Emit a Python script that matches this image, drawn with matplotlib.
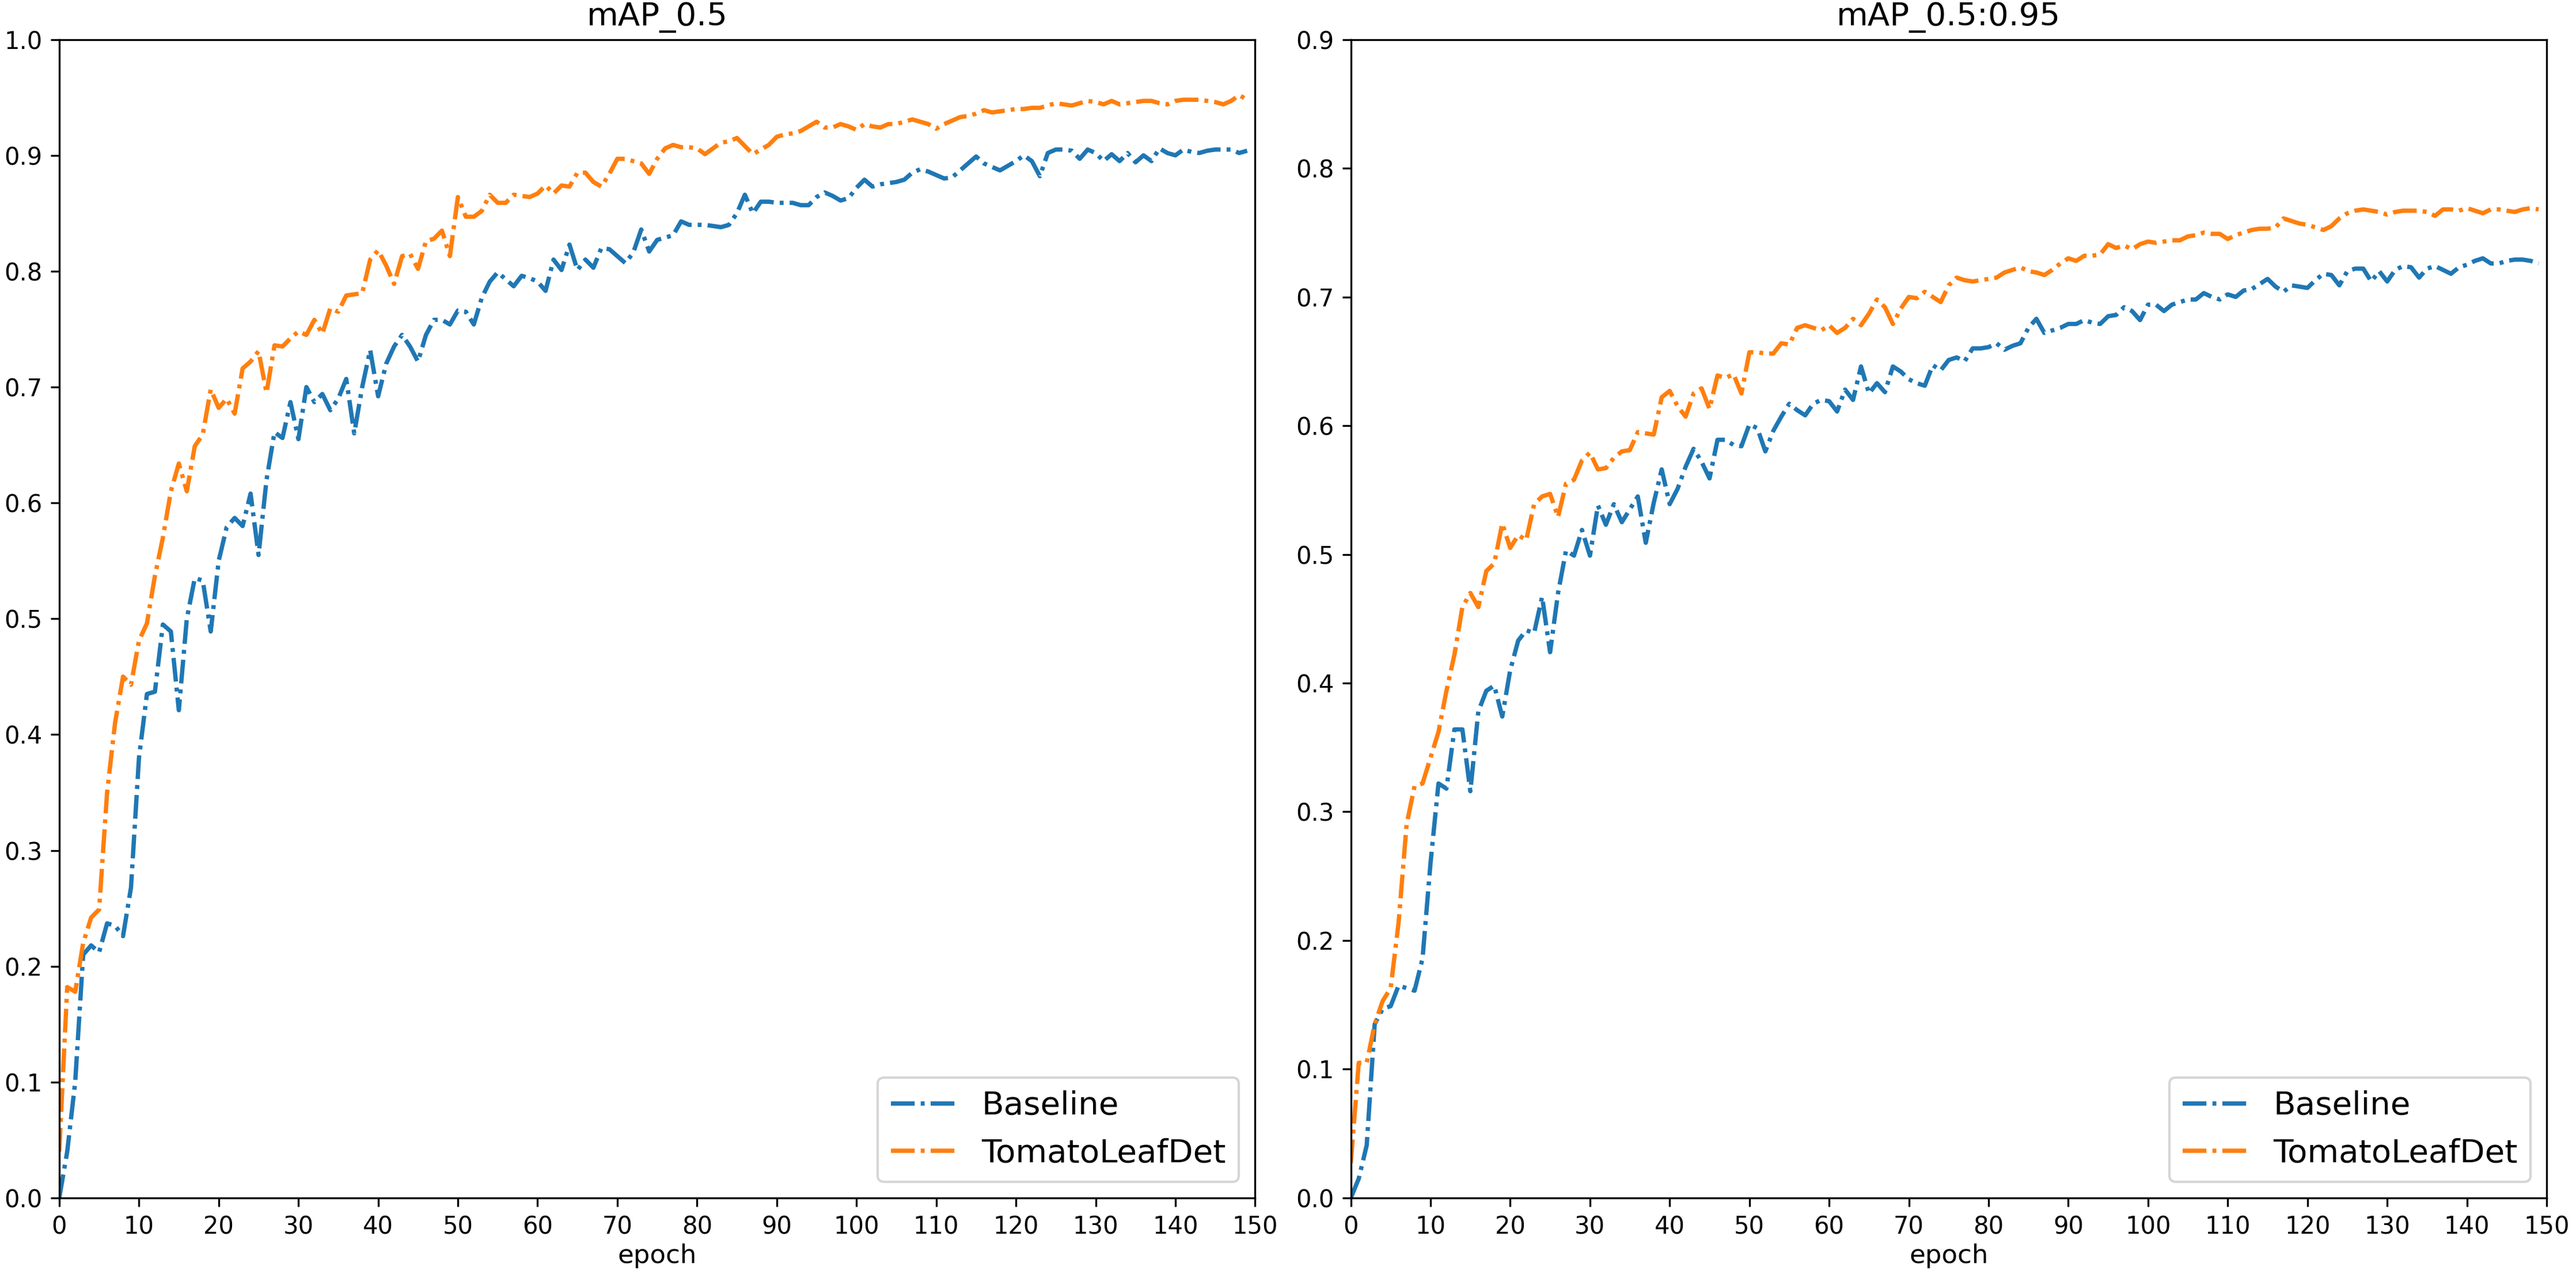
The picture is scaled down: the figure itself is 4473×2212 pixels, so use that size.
import numpy as np
import matplotlib
matplotlib.use("Agg")
import matplotlib.pyplot as plt

# values, epochs 0..149
map50_base = [
    0.000, 0.040, 0.100, 0.210, 0.218, 0.212, 0.237, 0.235, 0.226, 0.268,
    0.380, 0.435, 0.437, 0.495, 0.489, 0.421, 0.500, 0.535, 0.533, 0.489,
    0.550, 0.579, 0.587, 0.580, 0.608, 0.555, 0.620, 0.661, 0.656, 0.687,
    0.655, 0.700, 0.687, 0.694, 0.680, 0.690, 0.707, 0.660, 0.700, 0.732,
    0.692, 0.720, 0.735, 0.745, 0.735, 0.722, 0.745, 0.758, 0.758, 0.754,
    0.766, 0.765, 0.754, 0.777, 0.791, 0.799, 0.793, 0.787, 0.796, 0.794,
    0.791, 0.783, 0.810, 0.801, 0.823, 0.801, 0.810, 0.803, 0.820, 0.819,
    0.813, 0.807, 0.816, 0.836, 0.817, 0.827, 0.829, 0.831, 0.843, 0.840,
    0.840, 0.840, 0.839, 0.838, 0.840, 0.850, 0.866, 0.850, 0.860, 0.860,
    0.859, 0.859, 0.859, 0.857, 0.857, 0.864, 0.868, 0.865, 0.861, 0.863,
    0.872, 0.879, 0.873, 0.875, 0.876, 0.877, 0.879, 0.885, 0.888, 0.886,
    0.883, 0.880, 0.881, 0.887, 0.893, 0.899, 0.893, 0.890, 0.887, 0.891,
    0.895, 0.900, 0.895, 0.882, 0.902, 0.905, 0.905, 0.904, 0.897, 0.905,
    0.902, 0.895, 0.901, 0.895, 0.902, 0.894, 0.900, 0.895, 0.906, 0.902,
    0.900, 0.905, 0.903, 0.902, 0.904, 0.905, 0.905, 0.905, 0.902, 0.904,
]
map50_tomato = [
    0.040, 0.182, 0.178, 0.220, 0.242, 0.249, 0.350, 0.410, 0.450, 0.443,
    0.481, 0.496, 0.537, 0.570, 0.610, 0.634, 0.610, 0.649, 0.659, 0.698,
    0.682, 0.690, 0.677, 0.716, 0.722, 0.731, 0.695, 0.736, 0.735, 0.742,
    0.748, 0.745, 0.758, 0.746, 0.768, 0.765, 0.779, 0.780, 0.781, 0.810,
    0.818, 0.805, 0.789, 0.813, 0.815, 0.802, 0.826, 0.828, 0.835, 0.813,
    0.864, 0.847, 0.847, 0.852, 0.866, 0.859, 0.859, 0.866, 0.865, 0.864,
    0.867, 0.874, 0.867, 0.874, 0.873, 0.885, 0.885, 0.877, 0.873, 0.884,
    0.897, 0.897, 0.895, 0.893, 0.884, 0.897, 0.906, 0.909, 0.907, 0.907,
    0.906, 0.901, 0.906, 0.911, 0.912, 0.915, 0.908, 0.901, 0.905, 0.909,
    0.916, 0.918, 0.919, 0.921, 0.925, 0.929, 0.924, 0.924, 0.927, 0.925,
    0.922, 0.927, 0.925, 0.924, 0.927, 0.927, 0.929, 0.931, 0.929, 0.927,
    0.923, 0.927, 0.930, 0.933, 0.934, 0.936, 0.939, 0.937, 0.938, 0.939,
    0.940, 0.940, 0.941, 0.941, 0.943, 0.945, 0.944, 0.943, 0.945, 0.947,
    0.946, 0.944, 0.947, 0.944, 0.945, 0.946, 0.947, 0.947, 0.945, 0.944,
    0.947, 0.948, 0.948, 0.948, 0.947, 0.946, 0.944, 0.947, 0.952, 0.948,
]
map5095_base = [
    0.000, 0.015, 0.041, 0.135, 0.147, 0.149, 0.165, 0.163, 0.161, 0.186,
    0.260, 0.322, 0.318, 0.364, 0.364, 0.316, 0.378, 0.394, 0.398, 0.374,
    0.410, 0.433, 0.441, 0.439, 0.467, 0.424, 0.470, 0.503, 0.499, 0.519,
    0.499, 0.538, 0.523, 0.539, 0.525, 0.535, 0.545, 0.509, 0.540, 0.566,
    0.539, 0.551, 0.568, 0.582, 0.572, 0.559, 0.589, 0.589, 0.585, 0.584,
    0.601, 0.598, 0.580, 0.596, 0.607, 0.617, 0.612, 0.608, 0.617, 0.620,
    0.619, 0.611, 0.628, 0.620, 0.646, 0.625, 0.633, 0.626, 0.646, 0.642,
    0.636, 0.633, 0.631, 0.647, 0.643, 0.651, 0.653, 0.650, 0.660, 0.660,
    0.661, 0.664, 0.659, 0.662, 0.664, 0.676, 0.683, 0.672, 0.674, 0.676,
    0.679, 0.679, 0.682, 0.680, 0.679, 0.685, 0.686, 0.692, 0.689, 0.682,
    0.694, 0.694, 0.689, 0.694, 0.696, 0.698, 0.698, 0.703, 0.700, 0.698,
    0.702, 0.700, 0.705, 0.706, 0.710, 0.714, 0.708, 0.704, 0.709, 0.708,
    0.707, 0.713, 0.718, 0.717, 0.709, 0.720, 0.722, 0.722, 0.712, 0.720,
    0.712, 0.721, 0.724, 0.723, 0.715, 0.722, 0.724, 0.721, 0.718, 0.723,
    0.725, 0.728, 0.730, 0.726, 0.726, 0.728, 0.729, 0.729, 0.728, 0.726,
]
map5095_tomato = [
    0.027, 0.105, 0.105, 0.135, 0.153, 0.163, 0.214, 0.290, 0.320, 0.322,
    0.342, 0.362, 0.394, 0.422, 0.459, 0.470, 0.459, 0.487, 0.493, 0.524,
    0.505, 0.515, 0.511, 0.539, 0.545, 0.547, 0.529, 0.555, 0.558, 0.573,
    0.579, 0.566, 0.567, 0.575, 0.580, 0.581, 0.595, 0.594, 0.593, 0.622,
    0.627, 0.615, 0.607, 0.625, 0.629, 0.613, 0.639, 0.637, 0.640, 0.625,
    0.657, 0.657, 0.656, 0.656, 0.664, 0.663, 0.676, 0.678, 0.676, 0.674,
    0.678, 0.672, 0.676, 0.683, 0.678, 0.687, 0.698, 0.692, 0.679, 0.691,
    0.700, 0.699, 0.704, 0.700, 0.696, 0.709, 0.715, 0.713, 0.712, 0.713,
    0.714, 0.715, 0.719, 0.721, 0.723, 0.720, 0.719, 0.717, 0.721, 0.726,
    0.730, 0.728, 0.732, 0.732, 0.733, 0.741, 0.738, 0.740, 0.737, 0.741,
    0.743, 0.742, 0.743, 0.744, 0.744, 0.747, 0.748, 0.750, 0.749, 0.749,
    0.745, 0.748, 0.750, 0.752, 0.753, 0.753, 0.754, 0.761, 0.759, 0.757,
    0.756, 0.754, 0.752, 0.755, 0.761, 0.765, 0.767, 0.768, 0.767, 0.766,
    0.764, 0.766, 0.767, 0.767, 0.767, 0.766, 0.763, 0.768, 0.768, 0.767,
    0.769, 0.767, 0.765, 0.768, 0.768, 0.767, 0.766, 0.768, 0.769, 0.768,
]

titles = ["mAP_0.5", "mAP_0.5:0.95"]
y_tops = [1.0, 0.9]
series = [(map50_base, map50_tomato), (map5095_base, map5095_tomato)]
labels = ["Baseline", "TomatoLeafDet"]

fig, axes = plt.subplots(1, 2, figsize=(4473 / 300, 2212 / 300), dpi=300)
fig.subplots_adjust(left=0.023, right=0.9886, bottom=0.0597, top=0.969, wspace=0.08)

dash = (5.5, 1.4, 0.9, 1.4)
for ax, title, ytop, (base, tomato) in zip(axes, titles, y_tops, series):
    epochs = np.arange(len(base))
    ax.plot(epochs, base, linestyle=(0, dash), color='tab:blue', lw=1.8, label=labels[0])
    ax.plot(epochs, tomato, linestyle=(0, dash), color='tab:orange', lw=1.8, label=labels[1])
    ax.set_xlim(0, 150)
    ax.set_ylim(0, ytop)
    ax.set_xticks(np.arange(0, 151, 10))
    ax.set_yticks(np.round(np.arange(0, ytop + 0.01, 0.1), 1))
    ax.tick_params(labelsize=10)
    ax.set_title(title, fontsize=13.5)
    ax.set_xlabel('epoch', fontsize=10.8, labelpad=2)
    ax.legend(loc='lower right', fontsize=13.5)

plt.savefig('out.png', dpi=300)
